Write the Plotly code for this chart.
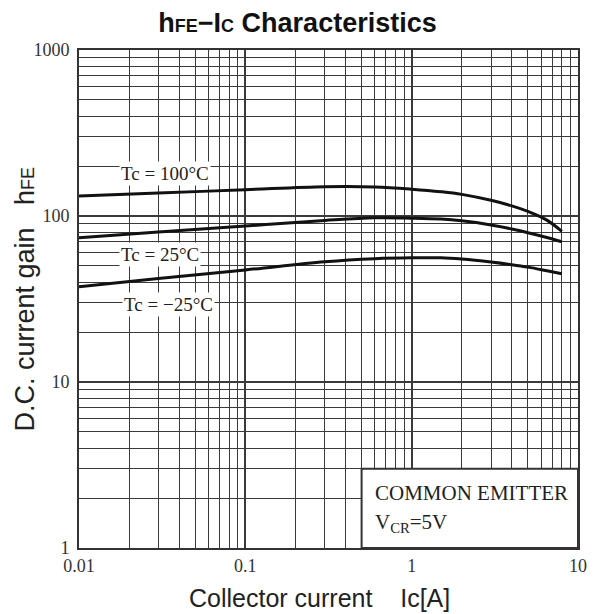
import plotly.graph_objects as go

# ---- data ----
ic_a = [0.01, 0.03, 0.1, 0.3, 0.6, 1, 1.5, 2, 3, 4, 5, 6.5, 8]
hfe_100c = [132, 137.5, 144, 150, 149.5, 145, 140, 135, 124.3, 115, 106.5, 94.4, 80.7]
hfe_25c = [74, 80, 87, 94, 97.5, 97, 95.8, 93.5, 88.3, 83.5, 79.3, 74.2, 70]
hfe_m25c = [37.5, 42, 47.3, 53, 55.3, 56, 56, 55, 52.8, 50.9, 49.2, 46.8, 44.9]

x_tickvals = [0.01, 0.1, 1, 10]
x_ticktext = ["0.01", "0.1", "1", "10"]
y_tickvals = [1, 10, 100, 1000]
y_ticktext = ["1", "10", "100", "1000"]

minor_x = [m * d for d in (0.01, 0.1, 1) for m in range(2, 10)]
minor_y = [m * d for d in (1, 10, 100) for m in range(2, 10)]

series = [
    ("Tc=100°C", hfe_100c),
    ("Tc=25°C", hfe_25c),
    ("Tc=−25°C", hfe_m25c),
]

fig = go.Figure()
for name, vals in series:
    fig.add_trace(go.Scatter(
        x=ic_a, y=vals, mode="lines", name=name,
        line=dict(color="#111111", width=3, shape="spline", smoothing=1.0),
        showlegend=False, hoverinfo="skip",
    ))

grid_col = "#3a3a3a"
tick_font = dict(family="Liberation Serif", size=18, color="#333333")

fig.update_xaxes(
    type="log", range=[-2, 1],
    tickmode="array", tickvals=x_tickvals, ticktext=x_ticktext,
    showgrid=True, gridcolor=grid_col, gridwidth=1.5,
    minor=dict(tickmode="array", tickvals=minor_x, showgrid=True,
               gridcolor=grid_col, gridwidth=1, ticks=""),
    ticks="", showline=True, mirror=True, linecolor="#333333", linewidth=2,
    tickfont=tick_font, zeroline=False, automargin=False,
)
fig.update_yaxes(
    type="log", range=[0, 3],
    tickmode="array", tickvals=y_tickvals, ticktext=y_ticktext,
    showgrid=True, gridcolor=grid_col, gridwidth=1.5,
    minor=dict(tickmode="array", tickvals=minor_y, showgrid=True,
               gridcolor=grid_col, gridwidth=1, ticks=""),
    ticks="", showline=True, mirror=True, linecolor="#333333", linewidth=2,
    tickfont=tick_font, zeroline=False, automargin=False,
    ticklabelstandoff=4,
)

# condition box (lower right), data coordinates on log axes
fig.add_shape(type="rect", xref="x", yref="y",
              x0=0.5, x1=10, y0=1, y1=3,
              fillcolor="white", line=dict(color="#333333", width=2),
              layer="above")

serif = "Liberation Serif"
lab_font = dict(family=serif, size=19, color="#222222")
annos = [
    dict(x=-1.484, y=2.259, text="Tc = 100°C"),
    dict(x=-1.514, y=1.771, text="Tc = 25°C"),
    dict(x=-1.46, y=1.464, text="Tc = −25°C"),
]
for a in annos:
    fig.add_annotation(x=a["x"], y=a["y"], xref="x", yref="y", text=a["text"],
                       showarrow=False, font=lab_font, bgcolor="white",
                       borderpad=1, xanchor="center", yanchor="middle")

fig.add_annotation(x=0.589, y=0.110, xref="paper", yref="paper",
                   text="COMMON EMITTER", showarrow=False,
                   font=dict(family=serif, size=21, color="#222222"),
                   xanchor="left", yanchor="middle")
fig.add_annotation(x=0.589, y=0.050, xref="paper", yref="paper",
                   text="V<sub>CR</sub>=5V", showarrow=False,
                   font=dict(family=serif, size=21, color="#222222"),
                   xanchor="left", yanchor="middle")

sp = "\u00a0"
fig.add_annotation(x=0.481, y=-0.100, xref="paper", yref="paper",
                   text="Collector current" + sp * 4 + "Ic[A]", showarrow=False,
                   font=dict(family="Liberation Sans", size=25, color="#222222"),
                   xanchor="center", yanchor="middle")
fig.add_annotation(x=-0.109, y=0.5, xref="paper", yref="paper",
                   text="D.C. current gain" + sp * 3 + "h<span style='font-size:18px'>FE</span>",
                   showarrow=False, textangle=-90,
                   font=dict(family="Liberation Sans", size=27, color="#222222"),
                   xanchor="center", yanchor="middle")

# page body adds an 8px margin; size the figure so the plot lands where the reference has it
fig.update_layout(
    width=587, height=606,
    margin=dict(l=71, r=17, t=42, b=66),
    paper_bgcolor="white", plot_bgcolor="white",
    title=dict(
        text="<b>h<span style='font-size:18px'>FE</span>−I<span style='font-size:18px'>C</span> Characteristics</b>",
        x=(297.5 - 8) / 587, xref="container", xanchor="center",
        y=1 - 15 / 606, yref="container", yanchor="middle",
        font=dict(family="Liberation Sans", size=27, color="#111111"),
    ),
)

fig.write_html("out.html")
